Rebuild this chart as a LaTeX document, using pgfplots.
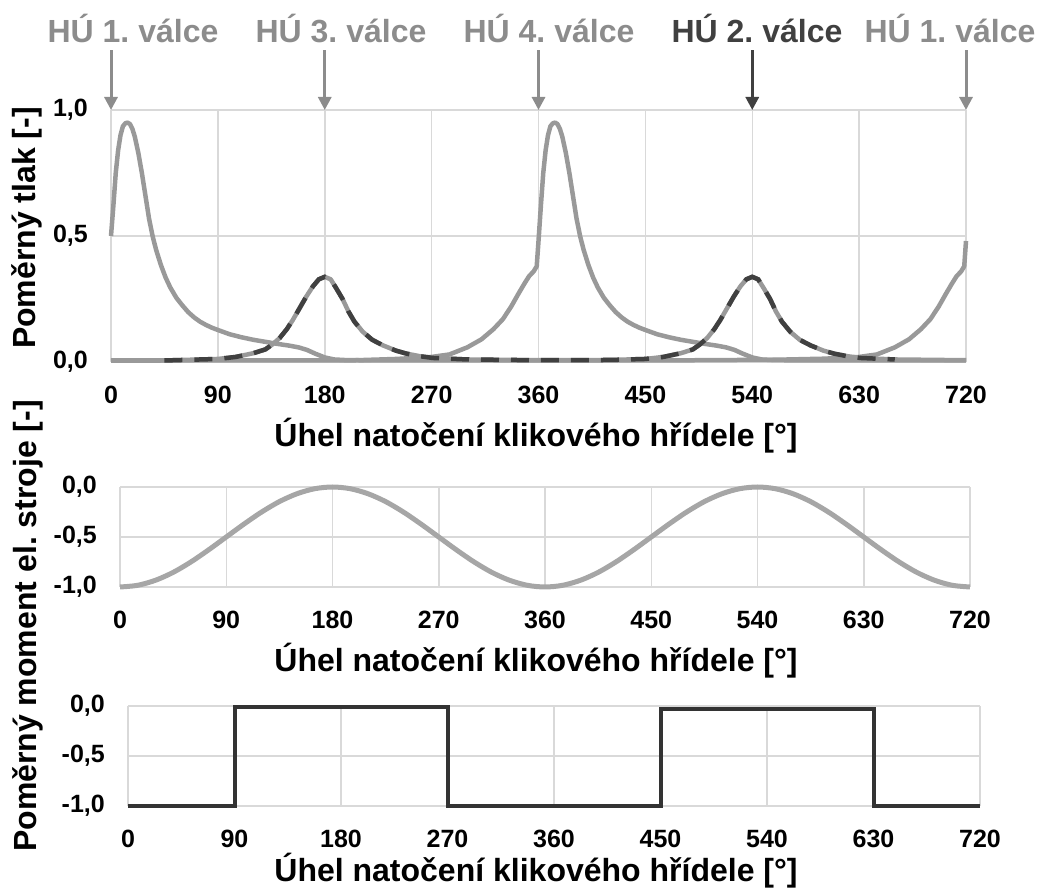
\documentclass[border=0pt]{standalone}
\usepackage{fontspec}
\setmainfont{Liberation Sans}
\usepackage{pgfplots}
\pgfplotsset{compat=1.18}
\usetikzlibrary{arrows.meta}
\frenchspacing
\definecolor{gridc}{HTML}{D9D9D9}
\definecolor{curveg}{HTML}{999999}
\definecolor{darkd}{HTML}{404040}
\definecolor{sineg}{HTML}{A6A6A6}
\definecolor{sqd}{HTML}{333333}
\definecolor{labg}{HTML}{8C8C8C}
\newcommand\tickfont{\fontsize{25}{29}\selectfont\bfseries}
\newcommand\labfont{\fontsize{32}{38}\selectfont\bfseries}
\pgfplotsset{base/.style={
  scale only axis, xmin=0, xmax=720, xtick={0,90,...,720},
  axis line style={draw=none}, major tick length=0pt,
  grid=major, major grid style={gridc, line width=1.5pt},
  tick label style={font=\tickfont, inner sep=0pt, text=black},
  /pgf/number format/assume math mode=true,
  xticklabel style={anchor=north, yshift=-24pt},
  yticklabel style={anchor=east, xshift=-23pt, /pgf/number format/.cd, fixed, fixed zerofill, precision=1, use comma},
  clip=false,
}}
\begin{document}
\begin{tikzpicture}
\useasboundingbox (0,0) rectangle (1043pt,888pt);
% ---------------- top: pressure ----------------
\begin{axis}[base, at={(111pt,526pt)}, anchor=south west, width=855pt, height=252pt,
  ymin=0, ymax=1, ytick={0,0.5,1}]
% cylinders 3 and 2 (grey solid)
\addplot[curveg, line width=4.5pt, line join=round] coordinates {
(0,0.005)(45,0.006)(90,0.012)(105,0.02)(120,0.035)(130,0.05)(136,0.07)(142,0.095)(148,0.13)(153,0.166)(159,0.215)(164.5,0.26)(170,0.30)(175,0.328)(180,0.338)(185,0.328)(190,0.29)(195,0.25)(200,0.20)(205,0.16)(212,0.12)(220,0.088)(229,0.066)(240,0.045)(249,0.033)(260,0.023)(271,0.016)(300,0.010)(360,0.007)(420,0.008)
(450,0.012)(465,0.02)(480,0.035)(490,0.05)(496,0.07)(502,0.095)(508,0.13)(513,0.166)(519,0.215)(524.5,0.26)(530,0.30)(535,0.328)(540,0.338)(545,0.328)(550,0.29)(555,0.25)(560,0.20)(565,0.16)(572,0.12)(580,0.088)(589,0.066)(600,0.045)(609,0.033)(620,0.023)(631,0.016)(660,0.010)(720,0.007)};
% cylinder 1
\addplot[curveg, line width=4.5pt, line join=round] coordinates {
(0,0.50)(2,0.62)(4,0.75)(6,0.84)(8,0.90)(10,0.935)(12,0.947)(14,0.95)(16,0.944)(18,0.925)(20,0.895)(23,0.83)(26,0.75)(29,0.66)(32,0.57)(35,0.50)(38,0.445)(42,0.385)(46,0.335)(50,0.295)(55,0.255)(60,0.225)(65,0.198)(70,0.177)(75,0.160)(80,0.147)(85,0.136)(90,0.127)(100,0.110)(110,0.098)(120,0.088)(130,0.080)(140,0.072)(150,0.065)(158,0.058)(165,0.048)(172,0.033)(180,0.018)(188,0.010)(200,0.007)(300,0.006)(400,0.006)(500,0.007)(560,0.009)(600,0.013)
(630,0.020)(645,0.030)(660,0.058)(672,0.09)(682,0.13)(690,0.17)(697,0.22)(703,0.27)(708,0.31)(712,0.34)(716,0.36)(718.5,0.38)(720,0.48)};
% cylinder 4
\addplot[curveg, line width=4.5pt, line join=round] coordinates {
(0,0.006)(100,0.006)(200,0.006)(240,0.012)
(270,0.020)(285,0.030)(300,0.058)(312,0.09)(322,0.13)(330,0.17)(337,0.22)(343,0.27)(348,0.31)(352,0.34)(356,0.36)(358.5,0.38)(360,0.48)
(362,0.62)(364,0.75)(366,0.84)(368,0.90)(370,0.935)(372,0.947)(374,0.95)(376,0.944)(378,0.925)(380,0.895)(383,0.83)(386,0.75)(389,0.66)(392,0.57)(395,0.50)(398,0.445)(402,0.385)(406,0.335)(410,0.295)(415,0.255)(420,0.225)(425,0.198)(430,0.177)(435,0.160)(440,0.147)(445,0.136)(450,0.127)(460,0.110)(470,0.098)(480,0.088)(490,0.080)(500,0.072)(510,0.065)(518,0.058)(525,0.048)(532,0.033)(540,0.018)(548,0.010)(560,0.007)(640,0.006)(720,0.006)};
% dashed dark curve
\addplot[darkd, line width=4.5pt, dash pattern=on 18pt off 12pt] coordinates {
(45,0.006)(90,0.012)(105,0.02)(120,0.035)(130,0.05)(136,0.07)(142,0.095)(148,0.13)(153,0.166)(159,0.215)(164.5,0.26)(170,0.30)(175,0.328)(180,0.338)(185,0.328)(190,0.29)(195,0.25)(200,0.20)(205,0.16)(212,0.12)(220,0.088)(229,0.066)(240,0.045)(249,0.033)(260,0.023)(271,0.016)(300,0.010)(360,0.007)(420,0.008)
(450,0.012)(465,0.02)(480,0.035)(490,0.05)(496,0.07)(502,0.095)(508,0.13)(513,0.166)(519,0.215)(524.5,0.26)(530,0.30)(535,0.328)(540,0.338)(545,0.328)(550,0.29)(555,0.25)(560,0.20)(565,0.16)(572,0.12)(580,0.088)(589,0.066)(600,0.045)(609,0.033)(620,0.023)(631,0.016)(660,0.010)};
% TDC arrows
\draw[labg, line width=3pt, -{Triangle[width=13pt,length=13pt]}] (axis cs:0,1.238) -- (axis cs:0,1);
\draw[labg, line width=3pt, -{Triangle[width=13pt,length=13pt]}] (axis cs:180,1.238) -- (axis cs:180,1);
\draw[labg, line width=3pt, -{Triangle[width=13pt,length=13pt]}] (axis cs:360,1.238) -- (axis cs:360,1);
\draw[darkd, line width=3pt, -{Triangle[width=13pt,length=13pt]}] (axis cs:540,1.238) -- (axis cs:540,1);
\draw[labg, line width=3pt, -{Triangle[width=13pt,length=13pt]}] (axis cs:720,1.238) -- (axis cs:720,1);
\end{axis}
% ---------------- middle: sine ----------------
\begin{axis}[base, at={(120pt,301pt)}, anchor=south west, width=850pt, height=100pt,
  ymin=-1, ymax=0, ytick={-1,-0.5,0}]
\addplot[sineg, line width=5pt, smooth] coordinates {
(0,-1)(15,-0.983)(30,-0.933)(45,-0.854)(60,-0.75)(75,-0.629)(90,-0.5)(105,-0.371)(120,-0.25)(135,-0.146)(150,-0.067)(165,-0.017)(180,0)(195,-0.017)(210,-0.067)(225,-0.146)(240,-0.25)(255,-0.371)(270,-0.5)(285,-0.629)(300,-0.75)(315,-0.854)(330,-0.933)(345,-0.983)(360,-1)
(375,-0.983)(390,-0.933)(405,-0.854)(420,-0.75)(435,-0.629)(450,-0.5)(465,-0.371)(480,-0.25)(495,-0.146)(510,-0.067)(525,-0.017)(540,0)(555,-0.017)(570,-0.067)(585,-0.146)(600,-0.25)(615,-0.371)(630,-0.5)(645,-0.629)(660,-0.75)(675,-0.854)(690,-0.933)(705,-0.983)(720,-1)};
\end{axis}
% ---------------- bottom: square ----------------
\begin{axis}[base, at={(128pt,82pt)}, anchor=south west, width=852pt, height=100pt,
  ymin=-1, ymax=0, ytick={-1,-0.5,0}]
\addplot[sqd, line width=4pt, line join=miter] coordinates {
(0,-1)(90,-1)(90,-0.01)(270,-0.01)(270,-1)(450,-1)(450,-0.03)(630,-0.03)(630,-1)(720,-1)};
\end{axis}
% ---------------- texts ----------------
\node[anchor=base, font=\labfont] at (536pt,441pt) {Úhel natočení klikového hřídele [°]};
\node[anchor=base, font=\labfont] at (536pt,216pt) {Úhel natočení klikového hřídele [°]};
\node[anchor=base, font=\labfont] at (536pt,7pt) {Úhel natočení klikového hřídele [°]};
\node[rotate=90, font=\labfont] at (27pt,660pt) {Poměrný tlak [-]};
\node[rotate=90, font=\labfont] at (28pt,262pt) {Poměrný moment el. stroje [-]};
\node[anchor=base, font=\labfont, text=labg] at (133pt,845pt) {HÚ 1. válce};
\node[anchor=base, font=\labfont, text=labg] at (341pt,845pt) {HÚ 3. válce};
\node[anchor=base, font=\labfont, text=labg] at (549pt,845pt) {HÚ 4. válce};
\node[anchor=base, font=\labfont, text=darkd] at (757pt,845pt) {HÚ 2. válce};
\node[anchor=base, font=\labfont, text=labg] at (950pt,845pt) {HÚ 1. válce};
\end{tikzpicture}
\end{document}
